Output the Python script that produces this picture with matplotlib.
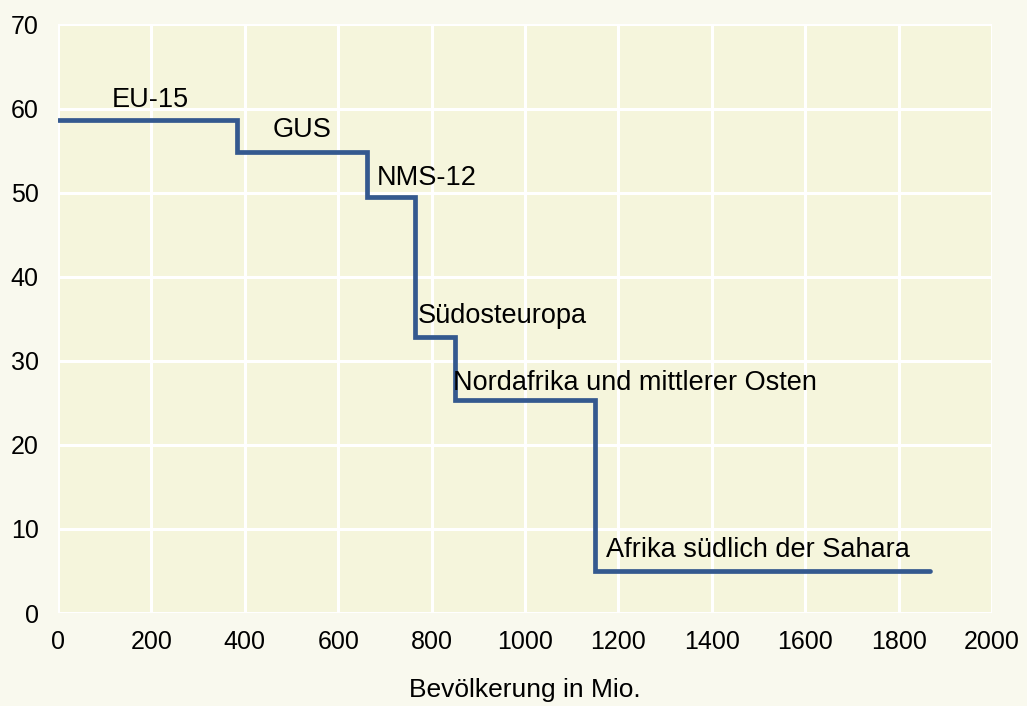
import matplotlib
matplotlib.use("Agg")
import matplotlib.pyplot as plt
import numpy as np

plt.rcParams['font.family'] = ['Liberation Sans', 'DejaVu Sans']

# Regionen, Bevölkerung (Mio.) und Wert je Region
regions = ["EU-15", "GUS", "NMS-12", "Südosteuropa",
           "Nordafrika und mittlerer Osten", "Afrika südlich der Sahara"]
population = [383, 279, 102, 86, 300, 717]
values = [58.7, 54.8, 49.5, 32.8, 25.3, 5.0]

# Beschriftungspositionen (x in Mio., y in Werteinheiten)
label_x = [116, 460, 683, 771, 846, 1173]
label_y = [60.2, 56.6, 50.9, 34.5, 26.5, 6.7]

edges = np.concatenate([[0], np.cumsum(population)])
steps = values + [values[-1]]

fig = plt.figure(figsize=(10.27, 7.06), dpi=100)
fig.patch.set_facecolor('#F9F9EE')
ax = fig.add_axes([0.0565, 0.1317, 0.9095, 0.8336])
ax.set_facecolor('#F5F5DC')

ax.step(edges, steps, where='post', color='#34598F', lw=3.4,
        solid_joinstyle='miter', solid_capstyle='round', zorder=3)

for name, lx, ly in zip(regions, label_x, label_y):
    ax.text(lx, ly, name, fontsize=19.5, ha='left', va='baseline', zorder=4)

ax.set_xlim(0, 2000)
ax.set_ylim(0, 70)
ax.set_xticks(np.arange(0, 2001, 200))
ax.set_yticks(np.arange(0, 71, 10))
ax.grid(True, color='white', lw=2.2)
ax.set_axisbelow(True)
for s in ax.spines.values():
    s.set_visible(False)
ax.tick_params(length=0, labelsize=18)
ax.tick_params(axis='x', pad=12)
ax.tick_params(axis='y', pad=14)
ax.set_xlabel("Bevölkerung in Mio.", fontsize=19, va='center')
ax.xaxis.set_label_coords(0.5, -0.131)

fig.savefig("out.png", dpi=100, facecolor=fig.get_facecolor())
